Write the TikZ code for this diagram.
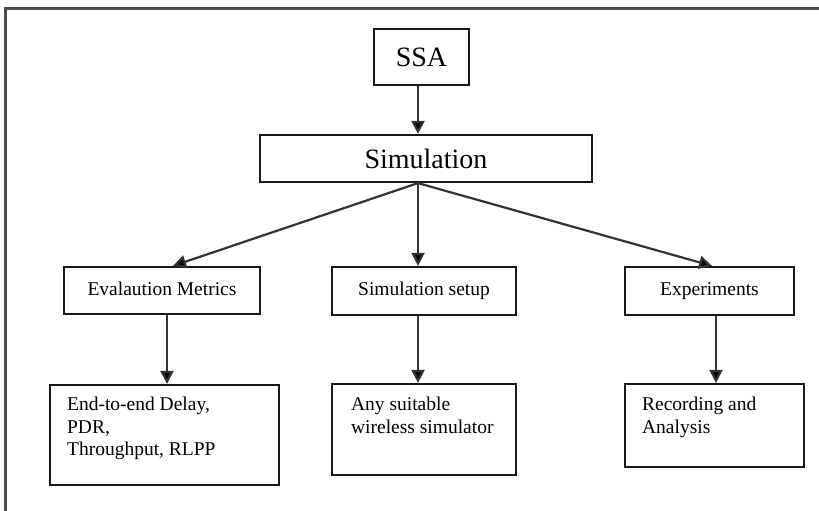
\documentclass[tikz,border=0pt]{standalone}
\usepackage{fontspec}
\setmainfont{Liberation Serif}
\usetikzlibrary{arrows.meta}
\tikzset{
  box/.style={draw=black!90, line width=2.2pt, rectangle, inner sep=0pt},
  bigfont/.style={font=\fontsize{28}{30}\selectfont, text height=19pt, text depth=0pt},
  smallfont/.style={font=\fontsize{19.5}{22}\selectfont, text height=13.5pt, text depth=4pt},
  arr/.style={line width=2.2pt, draw=black!80, -{Triangle[length=13pt,width=13pt,fill=black]}},
  inlabel/.style={anchor=north west, align=left, inner sep=0pt, font=\fontsize{19.5}{22.5}\selectfont}
}
\begin{document}
\begin{tikzpicture}[x=1pt,y=-1pt]
\useasboundingbox (0,0) rectangle (819,511);
\clip (0,0) rectangle (819,511);
\fill[white] (0,0) rectangle (819,511);
\draw[line width=3pt, black!70] (5,9) rectangle (850,540);

\node[box, bigfont, minimum width=95pt, minimum height=56pt] (ssa) at (421.5,57) {SSA};
\node[box, bigfont, minimum width=332pt, minimum height=47pt] (sim) at (426,158.5) {Simulation};

\node[box, smallfont, minimum width=196pt, minimum height=47pt] (eval) at (162,290.5) {Evalaution Metrics};
\node[box, smallfont, minimum width=184pt, minimum height=48pt] (setup) at (424,291) {Simulation setup};
\node[box, smallfont, minimum width=169pt, minimum height=48pt] (exper) at (709.5,291) {Experiments};

\node[box, minimum width=229pt, minimum height=100pt,
  label={[inlabel, xshift=18pt, yshift=-13pt]north west:{End-to-end Delay,\\PDR,\\Throughput, RLPP}}] (evalb) at (164.5,435) {};
\node[box, minimum width=184pt, minimum height=91pt,
  label={[inlabel, xshift=20pt, yshift=-14pt]north west:{Any suitable\\wireless simulator}}] (setupb) at (424,429.5) {};
\node[box, minimum width=179pt, minimum height=83pt,
  label={[inlabel, xshift=18pt, yshift=-14pt]north west:{Recording and\\Analysis}}] (experb) at (714.5,425.5) {};

\draw[arr] ([xshift=-3.5pt]ssa.south) -- ([xshift=-8pt]sim.north);
\draw[arr] ([xshift=-8pt]sim.south) -- ([xshift=11pt]eval.north);
\draw[arr] ([xshift=-8pt]sim.south) -- ([xshift=-6pt]setup.north);
\draw[arr] ([xshift=-8pt]sim.south) -- ([xshift=2.5pt]exper.north);

\draw[arr] ([xshift=5pt]eval.south) -- ([xshift=5pt]eval.south |- evalb.north);
\draw[arr] ([xshift=-6pt]setup.south) -- ([xshift=-6pt]setup.south |- setupb.north);
\draw[arr] ([xshift=6.5pt]exper.south) -- ([xshift=6.5pt]exper.south |- experb.north);
\end{tikzpicture}
\end{document}
